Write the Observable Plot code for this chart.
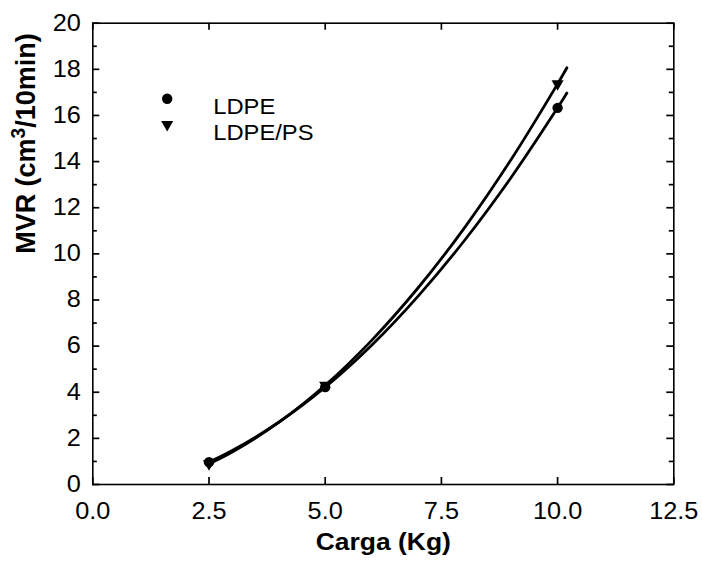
<!DOCTYPE html>
<html><head><meta charset="utf-8">
<script src="https://cdn.jsdelivr.net/npm/d3@7"></script>
<script src="https://cdn.jsdelivr.net/npm/@observablehq/plot@0.6"></script>
<style>body{margin:0;background:#fff}</style>
</head><body><div id="chart"></div>
<script>
const series = ["LDPE", "LDPE/PS"];
const loads = [2.5, 5, 10];
const ldpe = [0.97, 4.22, 16.33];
const ldpePs = [0.9, 4.3, 17.37];
const fitLoads = [2.5, 3, 4, 5, 6, 7, 8, 9, 10, 10.2];
const ldpeFit = [0.97, 1.47, 2.70, 4.22, 6.04, 8.17, 10.59, 13.31, 16.33, 16.97];
const ldpePsFit = [0.9, 1.41, 2.69, 4.3, 6.25, 8.53, 11.14, 14.09, 17.37, 18.07];
const xTicks = [0, 2.5, 5, 7.5, 10, 12.5];
const yTicks = [0, 2, 4, 6, 8, 10, 12, 14, 16, 18, 20];
const yMinor = [1, 3, 5, 7, 9, 11, 13, 15, 17, 19];
const xLabel = "Carga (Kg)";
const yLabel = "MVR (cm3/10min)";

const W = 702, H = 562, mL = 92.3, mR = 28.7, mT = 22.7, mB = 78;
const fw = W - mL - mR, fh = H - mT - mB;

const ptsA = loads.map((x, i) => ({x, y: ldpe[i]}));
const ptsB = loads.map((x, i) => ({x, y: ldpePs[i]}));
const fits = [
  ...fitLoads.map((x, i) => ({x, y: ldpeFit[i], s: series[0]})),
  ...fitLoads.map((x, i) => ({x, y: ldpePsFit[i], s: series[1]}))
];
const ts = {stroke: "black", strokeWidth: 1.7};

const svg = Plot.plot({
  width: W, height: H,
  marginLeft: mL, marginRight: mR, marginTop: mT, marginBottom: mB,
  style: {fontFamily: "'Liberation Sans', Arial, sans-serif", fontSize: "23px", background: "white", color: "black", overflow: "visible"},
  x: {domain: [0, 12.5]},
  y: {domain: [0, 20]},
  marks: [
    Plot.axisX(xTicks, {anchor: "bottom", tickSize: 0, tickPadding: 18, tickFormat: d => d.toFixed(1), label: null, fontSize: 23, className: "tl"}),
    Plot.axisY(yTicks, {anchor: "left", tickSize: 0, tickPadding: 12, label: null, fontSize: 23, className: "tl"}),
    // inward ticks on all four sides
    Plot.tickX(xTicks, {x: d => d, insetTop: fh - 7, ...ts}),
    Plot.tickX(xTicks, {x: d => d, insetBottom: fh - 7, ...ts}),
    Plot.tickY(yTicks, {y: d => d, insetRight: fw - 7, ...ts}),
    Plot.tickY(yTicks, {y: d => d, insetLeft: fw - 7, ...ts}),
    Plot.tickY(yMinor, {y: d => d, insetRight: fw - 4.5, ...ts}),
    Plot.tickY(yMinor, {y: d => d, insetLeft: fw - 4.5, ...ts}),
    Plot.line(fits, {x: "x", y: "y", z: "s", stroke: "black", strokeWidth: 2.8, curve: "catmull-rom"}),
    Plot.dot(ptsA, {x: "x", y: "y", r: 5.2, fill: "black", symbol: "circle"}),
    Plot.dot(ptsB, {x: "x", y: "y", r: 4.5, fill: "black", symbol: "triangle", rotate: 180}),
    Plot.frame({stroke: "black", strokeWidth: 1.6}),
    Plot.dot([series[0]], {frameAnchor: "top-left", dx: 74.4, dy: 75.6, r: 5.2, fill: "black", symbol: "circle"}),
    Plot.dot([series[1]], {frameAnchor: "top-left", dx: 74.4, dy: 101.3, r: 4.5, fill: "black", symbol: "triangle", rotate: 180}),
    Plot.text([series[0]], {text: d => d, frameAnchor: "top-left", dx: 120.4, dy: 75.6, textAnchor: "start", fontSize: 22, className: "lg"}),
    Plot.text([series[1]], {text: d => d, frameAnchor: "top-left", dx: 120.4, dy: 101.3, textAnchor: "start", fontSize: 22, className: "lg"}),
    Plot.text([xLabel], {text: d => d, frameAnchor: "bottom", dy: 65, fontSize: 23, fontWeight: "bold", className: "xt"}),
    Plot.text([yLabel], {text: d => d, frameAnchor: "left", dx: -67, rotate: -90, fontSize: 27, fontWeight: "bold", className: "yt"})
  ]
});
document.getElementById("chart").appendChild(svg);

// superscript 3 in the y title
const yt = svg.querySelector("g.yt text");
if (yt) {
  yt.textContent = "";
  const ns = "http://www.w3.org/2000/svg";
  const parts = [["MVR (cm", null], ["3", "sup"], ["/10min)", "back"]];
  for (const [s, kind] of parts) {
    const t = document.createElementNS(ns, "tspan");
    t.textContent = s;
    if (kind === "sup") { t.setAttribute("font-size", "19"); t.setAttribute("dy", "-9"); }
    if (kind === "back") { t.setAttribute("dy", "9"); }
    yt.appendChild(t);
  }
}

// the reference's lettering is slightly widened
const stretch = (sel, K) => svg.querySelectorAll(sel).forEach(t => {
  const tr = t.getAttribute("transform") || "translate(0,0)";
  t.setAttribute("transform", tr.replace(/^(translate\([^)]*\))/, `$1 scale(${K},1)`));
});
stretch("g.tl text", 1.1);
stretch("g.lg text", 1.08);
stretch("g.xt text", 1.15);
stretch("g.yt text", 1.05);
</script></body></html>
